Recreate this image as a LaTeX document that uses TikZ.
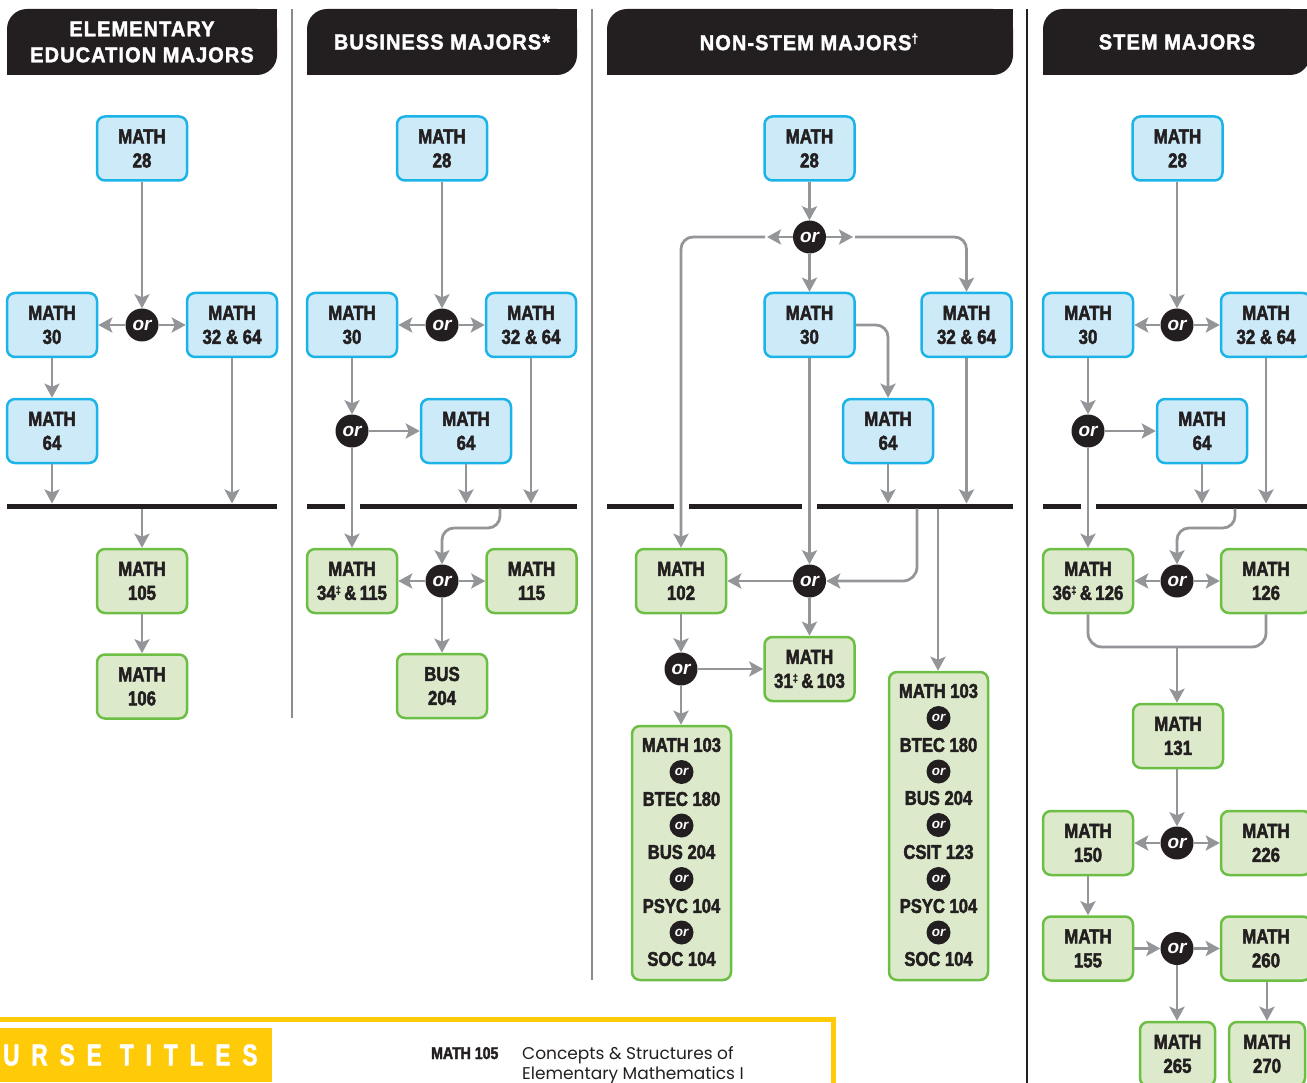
\documentclass[tikz,border=0pt]{standalone}
\usepackage{fontspec}
\usetikzlibrary{arrows.meta}
\newfontfamily\boxfam[FakeStretch=0.83,FakeBold=2.2]{Liberation Sans Bold}
\newfontfamily\hdrfam[FakeStretch=0.93,LetterSpace=5,FakeBold=1.8]{Liberation Sans Bold}
\newfontfamily\titlefam[FakeStretch=0.75,LetterSpace=40,FakeBold=1.5]{Liberation Sans Bold}
\newfontfamily\orfam{Liberation Sans Bold Italic}
\newfontfamily\bodyfam{Poppins}
\definecolor{blk}{HTML}{231F20}
\definecolor{gry}{HTML}{939598}
\definecolor{cyanB}{HTML}{1CB4E8}
\definecolor{cyanF}{HTML}{CDEAF8}
\definecolor{greenB}{HTML}{6DBE45}
\definecolor{greenF}{HTML}{DCEACB}
\definecolor{yel}{HTML}{FFCB08}
\definecolor{sepc}{HTML}{8C8C8C}
\newcommand\dg{\raisebox{6pt}{\fontsize{11}{11}\selectfont ‡}}
\newcommand\dgr{\raisebox{7pt}{\fontsize{13}{13}\selectfont †}}
\newcommand\hdrshape[2]{%
  \fill[blk,rounded corners=20] (#1,9) rectangle (#2,75);
  \fill[blk] (#2-30,9) rectangle (#2,40);
  \fill[blk] (#1,45) rectangle (#1+30,75);}
\begin{document}
\begin{tikzpicture}[x=1pt,y=-1pt,
  boxbase/.style={line width=2.5pt, rounded corners=8pt, minimum width=90pt,
     minimum height=64pt, inner sep=0pt, align=center,
     font=\boxfam\fontsize{20.3}{24}\selectfont, text=blk},
  bluebox/.style={boxbase, draw=cyanB, fill=cyanF},
  greenbox/.style={boxbase, draw=greenB, fill=greenF},
  listbox/.style={draw=greenB, fill=greenF, line width=2.5pt, rounded corners=8pt,
     minimum width=99pt, inner sep=0pt},
  listtext/.style={inner sep=0pt, text=blk, font=\boxfam\fontsize{20}{24}\selectfont},
  ornode/.style={circle, fill=blk, minimum size=33pt, inner sep=0pt, text=white,
     font=\orfam\fontsize{19}{19}\selectfont},
  smallor/.style={circle, fill=blk, minimum size=24pt, inner sep=0pt, text=white,
     font=\orfam\fontsize{13.5}{14}\selectfont},
  hdrtext/.style={text=white, align=center, inner sep=0pt,
     font=\hdrfam\fontsize{21.5}{26}\selectfont},
  conn/.style={draw=gry, line width=2.8pt},
  arr/.style={conn, -{Stealth[length=14pt,width=15pt,inset=3pt]}},
  barline/.style={draw=blk, line width=5pt},
  sepline/.style={draw=sepc, line width=1.8pt},
  darksep/.style={draw=blk, line width=1.5pt}
]
\useasboundingbox (0,0) rectangle (1307,1083);
\clip (0,0) rectangle (1307,1083);

% separators
\draw[sepline] (292,9) -- (292,718);
\draw[sepline] (592,9) -- (592,980);
\draw[darksep] (1027,9) -- (1027,1083);

% headers
\hdrshape{7}{277}
\hdrshape{307}{577}
\hdrshape{607}{1013}
\hdrshape{1043}{1310}
\node[hdrtext] (h1) at (142,42) {ELEMENTARY\\EDUCATION MAJORS};
\node[hdrtext] (h2) at (442,42) {BUSINESS MAJORS*};
\node[hdrtext] (h3) at (809,42) {NON-STEM MAJORS\dgr};
\node[hdrtext] (h4) at (1177,42) {STEM MAJORS};

% ================= column 1
\coordinate (aT) at (0,503.5);
\coordinate (aB) at (0,508.5);
\draw[barline] (7,506) -- (277,506);
\node[bluebox] (a28) at (142,148.5) {MATH\\28};
\node[ornode] (aor) at (142,325) {or};
\node[bluebox] (a30) at (52,325) {MATH\\30};
\node[bluebox] (a3264) at (232,325) {MATH\\32 \& 64};
\node[bluebox] (a64) at (52,431) {MATH\\64};
\node[greenbox] (a105) at (142,581) {MATH\\105};
\node[greenbox] (a106) at (142,686.5) {MATH\\106};
\draw[arr] (a28) -- (aor);
\draw[arr] (aor) -- (a30);
\draw[arr] (aor) -- (a3264);
\draw[arr] (a30) -- (a64);
\draw[arr] (a64.south) -- (a64.south |- aT);
\draw[arr] (a3264.south) -- (a3264.south |- aT);
\draw[arr] (a105.north |- aB) -- (a105.north);
\draw[arr] (a105) -- (a106);

% ================= column 2
\draw[barline] (307,506) -- (345,506);
\draw[barline] (360,506) -- (577,506);
\coordinate (bjoin) at (500,508.5);
\node[bluebox] (b28) at (442,148.5) {MATH\\28};
\node[ornode] (bor) at (442,325) {or};
\node[bluebox] (b30) at (352,325) {MATH\\30};
\node[bluebox] (b3264) at (531,325) {MATH\\32 \& 64};
\node[ornode] (bor2) at (352,431) {or};
\node[bluebox] (b64) at (466,431) {MATH\\64};
\node[greenbox] (b34) at (352,581) {MATH\\34\dg\,\&\,115};
\node[ornode] (bor3) at (442,581) {or};
\node[greenbox] (b115) at (531.5,581) {MATH\\115};
\node[greenbox] (bbus) at (442,686) {BUS\\204};
\draw[arr] (b28) -- (bor);
\draw[arr] (bor) -- (b30);
\draw[arr] (bor) -- (b3264);
\draw[arr] (b30) -- (bor2);
\draw[arr] (bor2) -- (b64);
\draw[arr] (bor2) -- (b34);
\draw[arr] (b64.south) -- (b64.south |- aT);
\draw[arr] (b3264.south) -- (b3264.south |- aT);
\draw[arr, rounded corners=12pt] (bjoin) -- (500,528) -- (442,528) -- (bor3);
\draw[arr] (bor3) -- (b34);
\draw[arr] (bor3) -- (b115);
\draw[arr] (bor3) -- (bbus);

% ================= column 3
\draw[barline] (607,506) -- (674,506);
\draw[barline] (689,506) -- (802,506);
\draw[barline] (817,506) -- (1013,506);
\coordinate (cj1) at (917,508.5);
\coordinate (cj2) at (938,508.5);
\coordinate (cLt) at (767,237);
\coordinate (cLs) at (765,237);
\coordinate (cRt) at (853,237);
\coordinate (cRs) at (855,237);
\node[bluebox] (c28) at (809.5,148.5) {MATH\\28};
\node[ornode] (cor) at (809.5,237) {or};
\node[bluebox] (c30) at (809.5,325) {MATH\\30};
\node[bluebox] (c3264) at (966.5,325) {MATH\\32 \& 64};
\node[bluebox] (c64) at (888,431) {MATH\\64};
\node[ornode] (cor2) at (809.5,581) {or};
\node[greenbox] (c102) at (681,581) {MATH\\102};
\node[greenbox] (c31) at (809.5,669) {MATH\\31\dg\,\&\,103};
\node[ornode] (cor3) at (681,669) {or};
\node[listbox, minimum height=254pt] (cl1) at (681.5,853) {};
\node[listbox, minimum height=308pt] (cl2) at (938.5,826) {};
% list 1
\node[listtext] (l1a) at (681.5,745) {MATH 103};
\node[smallor] (l1o1) at (681.5,772) {or};
\node[listtext] (l1b) at (681.5,799) {BTEC 180};
\node[smallor] (l1o2) at (681.5,825.5) {or};
\node[listtext] (l1c) at (681.5,852) {BUS 204};
\node[smallor] (l1o3) at (681.5,879) {or};
\node[listtext] (l1d) at (681.5,906) {PSYC 104};
\node[smallor] (l1o4) at (681.5,932.5) {or};
\node[listtext] (l1e) at (681.5,959) {SOC 104};
% list 2
\node[listtext] (l2a) at (938.5,691) {MATH 103};
\node[smallor] (l2o1) at (938.5,718) {or};
\node[listtext] (l2b) at (938.5,745) {BTEC 180};
\node[smallor] (l2o2) at (938.5,771.5) {or};
\node[listtext] (l2c) at (938.5,798) {BUS 204};
\node[smallor] (l2o3) at (938.5,825) {or};
\node[listtext] (l2d) at (938.5,852) {CSIT 123};
\node[smallor] (l2o4) at (938.5,879) {or};
\node[listtext] (l2e) at (938.5,906) {PSYC 104};
\node[smallor] (l2o5) at (938.5,932.5) {or};
\node[listtext] (l2f) at (938.5,959) {SOC 104};

\draw[arr] (c28) -- (cor);
\draw[arr] (cor) -- (c30);
\draw[arr] (cor) -- (cLt);
\draw[arr, rounded corners=12pt] (cLs) -- (681,237) -- (c102);
\draw[arr] (cor) -- (cRt);
\draw[arr, rounded corners=12pt] (cRs) -- (966.5,237) -- (c3264);
\draw[arr, rounded corners=12pt] (c30.east) -- (888,325) -- (c64);
\draw[arr] (c30) -- (cor2);
\draw[arr] (c64.south) -- (c64.south |- aT);
\draw[arr] (c3264.south) -- (c3264.south |- aT);
\draw[arr, rounded corners=14pt] (cj1) -- (917,581) -- (cor2);
\draw[arr] (cj2) -- (cj2 |- cl2.north);
\draw[arr] (cor2) -- (c102);
\draw[arr] (cor2) -- (c31);
\draw[arr] (c102) -- (cor3);
\draw[arr] (cor3) -- (c31);
\draw[arr] (cor3) -- (cor3 |- cl1.north);

% ================= column 4
\draw[barline] (1043,506) -- (1081,506);
\draw[barline] (1096,506) -- (1310,506);
\coordinate (djoin) at (1235,508.5);
\coordinate (dU) at (1177,647);
\node[bluebox] (d28) at (1177.5,148.5) {MATH\\28};
\node[ornode] (dor) at (1177,325) {or};
\node[bluebox] (d30) at (1088,325) {MATH\\30};
\node[bluebox] (d3264) at (1266,325) {MATH\\32 \& 64};
\node[ornode] (dor2) at (1088,431) {or};
\node[bluebox] (d64) at (1202,431) {MATH\\64};
\node[greenbox] (d36) at (1088,581) {MATH\\36\dg\,\&\,126};
\node[ornode] (dor3) at (1177,581) {or};
\node[greenbox] (d126) at (1266,581) {MATH\\126};
\node[greenbox] (d131) at (1178,736) {MATH\\131};
\node[ornode] (dor4) at (1177,843) {or};
\node[greenbox] (d150) at (1088,843) {MATH\\150};
\node[greenbox] (d226) at (1266,843) {MATH\\226};
\node[greenbox] (d155) at (1088,948.5) {MATH\\155};
\node[ornode] (dor5) at (1177,948.5) {or};
\node[greenbox] (d260) at (1266,948.5) {MATH\\260};
\node[greenbox, minimum width=75pt] (d265) at (1177.5,1054) {MATH\\265};
\node[greenbox, minimum width=76pt] (d270) at (1267,1054) {MATH\\270};
\draw[arr] (d28.south -| dor) -- (dor);
\draw[arr] (dor) -- (d30);
\draw[arr] (dor) -- (d3264);
\draw[arr] (d30) -- (dor2);
\draw[arr] (dor2) -- (d64);
\draw[arr] (dor2) -- (d36);
\draw[arr] (d64.south) -- (d64.south |- aT);
\draw[arr] (d3264.south) -- (d3264.south |- aT);
\draw[arr, rounded corners=12pt] (djoin) -- (1235,528) -- (1177,528) -- (dor3);
\draw[arr] (dor3) -- (d36);
\draw[arr] (dor3) -- (d126);
\draw[conn, rounded corners=14pt] (d36.south) -- (1088,647) -- (1266,647) -- (d126.south);
\draw[arr] (dU) -- (dU |- d131.north);
\draw[arr] (d131.south -| dor4) -- (dor4);
\draw[arr] (dor4) -- (d150);
\draw[arr] (dor4) -- (d226);
\draw[arr] (d150) -- (d155);
\draw[arr] (d155) -- (dor5);
\draw[arr] (dor5) -- (d260);
\draw[arr] (dor5) -- (dor5 |- d265.north);
\draw[arr] (d260.south -| d270) -- (d270);

% ================= bottom course titles
\draw[yel, line width=5pt] (0,1019) -- (833.5,1019) -- (833.5,1090);
\fill[yel] (0,1028) rectangle (272,1082);
\node[anchor=west, inner sep=0pt, text=white,
   font=\titlefam\fontsize{30}{30}\selectfont] (ct) at (3,1055) {URSE TITLES};
\node[anchor=base west, inner sep=0pt, text=blk,
   font=\boxfam\fontsize{17}{20}\selectfont] (m105) at (431,1059) {MATH 105};
\node[anchor=base west, inner sep=0pt, text=blk,
   font=\bodyfam\fontsize{17}{20}\selectfont] (t105a) at (522,1059) {Concepts \& Structures of};
\node[anchor=base west, inner sep=0pt, text=blk,
   font=\bodyfam\fontsize{17}{20}\selectfont] (t105b) at (522,1079) {Elementary Mathematics I};
\end{tikzpicture}
\end{document}
